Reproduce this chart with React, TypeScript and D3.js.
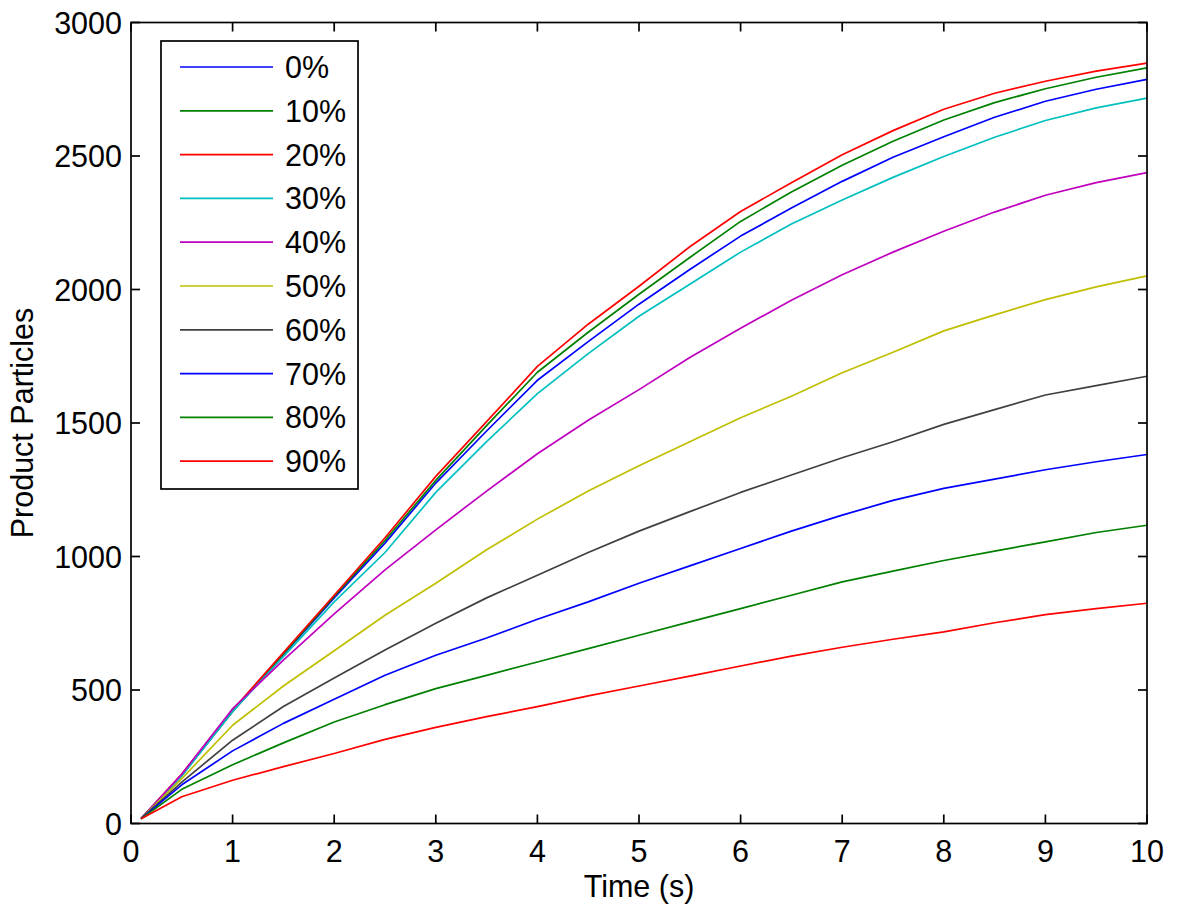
import React from "react";
import * as d3 from "d3";

const times = [0.1, 0.5, 1, 1.5, 2, 2.5, 3, 3.5, 4, 4.5, 5, 5.5, 6, 6.5, 7, 7.5, 8, 8.5, 9, 9.5, 10];

const s0 = [18, 180, 420, 632, 845, 1050, 1275, 1470, 1660, 1805, 1945, 2075, 2200, 2305, 2405, 2495, 2572, 2645, 2705, 2750, 2787];
const s10 = [18, 182, 420, 635, 850, 1060, 1285, 1490, 1690, 1840, 1982, 2120, 2255, 2365, 2465, 2555, 2635, 2700, 2752, 2795, 2830];
const s20 = [18, 185, 425, 640, 855, 1070, 1300, 1505, 1712, 1870, 2012, 2160, 2292, 2400, 2505, 2595, 2675, 2735, 2780, 2818, 2848];
const s30 = [18, 178, 420, 625, 830, 1015, 1240, 1430, 1610, 1760, 1900, 2020, 2140, 2245, 2335, 2420, 2498, 2570, 2633, 2680, 2717];
const s40 = [18, 185, 430, 612, 785, 950, 1100, 1245, 1385, 1510, 1625, 1745, 1855, 1960, 2055, 2140, 2218, 2290, 2353, 2400, 2438];
const s50 = [18, 168, 368, 515, 647, 780, 900, 1025, 1140, 1245, 1340, 1430, 1520, 1600, 1688, 1765, 1845, 1905, 1962, 2010, 2051];
const s60 = [18, 155, 312, 438, 545, 650, 750, 845, 930, 1015, 1095, 1168, 1240, 1305, 1370, 1430, 1495, 1550, 1605, 1640, 1675];
const s70 = [18, 145, 272, 375, 465, 555, 630, 695, 765, 830, 900, 965, 1030, 1095, 1155, 1210, 1255, 1290, 1325, 1355, 1382];
const s80 = [18, 128, 220, 302, 380, 445, 505, 555, 605, 655, 705, 755, 805, 855, 905, 945, 985, 1020, 1055, 1090, 1117];
const s90 = [18, 100, 162, 213, 262, 315, 360, 400, 438, 478, 515, 552, 590, 627, 660, 690, 718, 752, 782, 805, 825];

const seriesNames = ["0%", "10%", "20%", "30%", "40%", "50%", "60%", "70%", "80%", "90%"];
const seriesValues = [s0, s10, s20, s30, s40, s50, s60, s70, s80, s90];
const seriesColors = ["#0000ff", "#008000", "#ff0000", "#00bfbf", "#bf00bf", "#bfbf00", "#404040", "#0000ff", "#008000", "#ff0000"];

const xTicks = [0, 1, 2, 3, 4, 5, 6, 7, 8, 9, 10];
const yTicks = [0, 500, 1000, 1500, 2000, 2500, 3000];

const FONT = "'Liberation Sans', Arial, Helvetica, sans-serif";
const FS = 30.5;

export default function App() {
  const left = 131, right = 1147, top = 22.5, bottom = 823.5;
  const x = d3.scaleLinear().domain([0, 10]).range([left, right]);
  const y = d3.scaleLinear().domain([0, 3000]).range([bottom, top]);
  const line = d3.line<[number, number]>().x(d => x(d[0])).y(d => y(d[1]));
  const tickLen = 9;

  const legX = 161, legY = 41, legW = 197, legH = 448;
  const legFirst = 67, legStep = 43.8;

  return (
    <svg width={1200} height={916} style={{ position: "absolute", left: 0, top: 0, background: "#fff" }}>
      <rect x={0} y={0} width={1200} height={916} fill="#fff" />
      <g>
        {seriesValues.map((vals, i) => (
          <path key={i} d={line(times.map((t, j) => [t, vals[j]] as [number, number])) || ""}
            fill="none" stroke={seriesColors[i]} strokeWidth={1.7} strokeLinejoin="round" />
        ))}
      </g>
      <rect x={left} y={top} width={right - left} height={bottom - top} fill="none" stroke="#000" strokeWidth={1.7} />
      {xTicks.map(t => (
        <g key={"x" + t}>
          <line x1={x(t)} x2={x(t)} y1={bottom} y2={bottom - tickLen} stroke="#000" strokeWidth={1.7} />
          <line x1={x(t)} x2={x(t)} y1={top} y2={top + tickLen} stroke="#000" strokeWidth={1.7} />
          <text x={x(t)} y={862} textAnchor="middle" fontFamily={FONT} fontSize={FS} fill="#000">{t}</text>
        </g>
      ))}
      {yTicks.map(v => (
        <g key={"y" + v}>
          <line x1={left} x2={left + tickLen} y1={y(v)} y2={y(v)} stroke="#000" strokeWidth={1.7} />
          <line x1={right} x2={right - tickLen} y1={y(v)} y2={y(v)} stroke="#000" strokeWidth={1.7} />
          <text x={122} y={y(v) + 11} textAnchor="end" fontFamily={FONT} fontSize={FS} fill="#000">{v}</text>
        </g>
      ))}
      <text x={(left + right) / 2} y={897} textAnchor="middle" fontFamily={FONT} fontSize={FS} fill="#000">Time (s)</text>
      <text transform={`translate(33, ${(top + bottom) / 2}) rotate(-90)`} textAnchor="middle" fontFamily={FONT} fontSize={FS} fill="#000">Product Particles</text>
      <rect x={legX} y={legY} width={legW} height={legH} fill="#fff" stroke="#000" strokeWidth={1.7} />
      {seriesNames.map((n, i) => (
        <g key={n}>
          <line x1={180} x2={273} y1={legFirst + i * legStep} y2={legFirst + i * legStep} stroke={seriesColors[i]} strokeWidth={1.7} />
          <text x={285} y={legFirst + i * legStep + 11} fontFamily={FONT} fontSize={FS} fill="#000">{n}</text>
        </g>
      ))}
    </svg>
  );
}
